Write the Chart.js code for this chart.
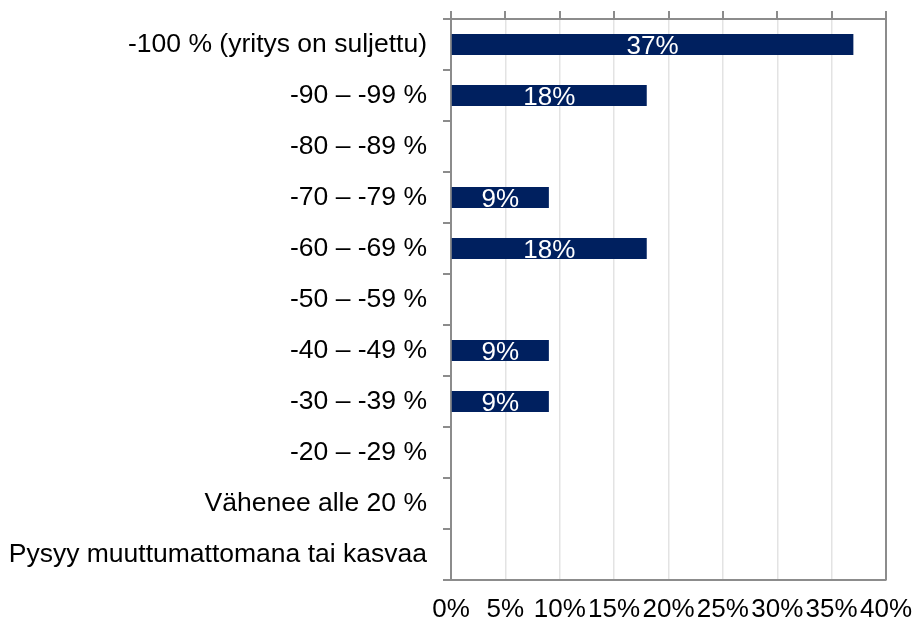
<!DOCTYPE html>
<html>
<head>
<meta charset="utf-8">
<script src="https://cdn.jsdelivr.net/npm/chart.js@4.4.1/dist/chart.umd.min.js"></script>
<style>
  html, body { margin: 0; padding: 0; background: #fff; }
  #wrap { width: 917px; height: 623px; }
</style>
</head>
<body>
<div id="wrap"><canvas id="chart" width="917" height="623"></canvas></div>
<script>
const categories = [
    '-100 % (yritys on suljettu)',
    '-90 – -99 %',
    '-80 – -89 %',
    '-70 – -79 %',
    '-60 – -69 %',
    '-50 – -59 %',
    '-40 – -49 %',
    '-30 – -39 %',
    '-20 – -29 %',
    'Vähenee alle 20 %',
    'Pysyy muuttumattomana tai kasvaa'
];
const shares = [37, 18, 0, 9, 18, 0, 9, 9, 0, 0, 0];
const xTicks = [0, 5, 10, 15, 20, 25, 30, 35, 40];

const FONT = 'Liberation Sans, Arial, sans-serif';
const AXIS = '#8c8c8c';

// White value labels in the middle of each bar
const barLabels = {
    id: 'barLabels',
    afterDatasetsDraw(chart) {
        const ctx = chart.ctx;
        const meta = chart.getDatasetMeta(0);
        ctx.save();
        ctx.fillStyle = '#ffffff';
        ctx.font = '26px ' + FONT;
        ctx.textAlign = 'center';
        ctx.textBaseline = 'middle';
        meta.data.forEach((bar, i) => {
            const v = shares[i];
            if (!v) return;
            const cx = (bar.base + bar.x) / 2;
            ctx.fillText(v + '%', cx, bar.y + 2);
        });
        ctx.restore();
    }
};

// Right edge of the plot frame
const rightFrame = {
    id: 'rightFrame',
    afterDraw(chart) {
        const a = chart.chartArea;
        const ctx = chart.ctx;
        ctx.save();
        ctx.strokeStyle = AXIS;
        ctx.lineWidth = 2;
        ctx.beginPath();
        ctx.moveTo(a.right, a.top);
        ctx.lineTo(a.right, a.bottom);
        ctx.stroke();
        ctx.restore();
    }
};

new Chart(document.getElementById('chart'), {
    type: 'bar',
    data: {
        labels: categories,
        datasets: [{
            data: shares,
            backgroundColor: '#00205f',
            barPercentage: 0.41,
            categoryPercentage: 1.0
        }]
    },
    options: {
        indexAxis: 'y',
        responsive: false,
        animation: false,
        layout: { padding: { top: 0, right: 31, bottom: 0, left: 0 } },
        plugins: {
            legend: { display: false },
            tooltip: { enabled: false }
        },
        scales: {
            x: {
                position: 'bottom',
                min: 0,
                max: 40,
                afterBuildTicks(axis) { axis.ticks = xTicks.map(v => ({ value: v })); },
                afterFit(axis) {
                    axis.height = 43;
                    axis.paddingLeft = 0;
                    axis.paddingRight = 0;
                },
                ticks: {
                    color: '#000',
                    font: { family: FONT, size: 26 },
                    padding: 14,
                    maxRotation: 0,
                    autoSkip: false,
                    callback: v => v + '%'
                },
                grid: { color: '#e3e3e3', lineWidth: 1.5, drawTicks: false },
                border: { color: AXIS, width: 2 }
            },
            xTop: {
                position: 'top',
                min: 0,
                max: 40,
                afterBuildTicks(axis) { axis.ticks = xTicks.map(v => ({ value: v })); },
                afterFit(axis) {
                    axis.height = 19;
                    axis.paddingLeft = 0;
                    axis.paddingRight = 0;
                },
                ticks: { display: false },
                grid: { drawOnChartArea: false, color: AXIS, lineWidth: 2, tickLength: 8 },
                border: { color: AXIS, width: 2 }
            },
            y: {
                position: 'left',
                afterFit(axis) {
                    axis.width = 451;
                    axis.paddingTop = 0;
                    axis.paddingBottom = 0;
                },
                ticks: {
                    color: '#000',
                    font: { family: FONT, size: 26.5 },
                    padding: 16,
                    autoSkip: false
                },
                grid: { offset: true, drawOnChartArea: false, color: AXIS, lineWidth: 2, tickLength: 8 },
                border: { color: AXIS, width: 2 }
            }
        }
    },
    plugins: [barLabels, rightFrame]
});
</script>
</body>
</html>
